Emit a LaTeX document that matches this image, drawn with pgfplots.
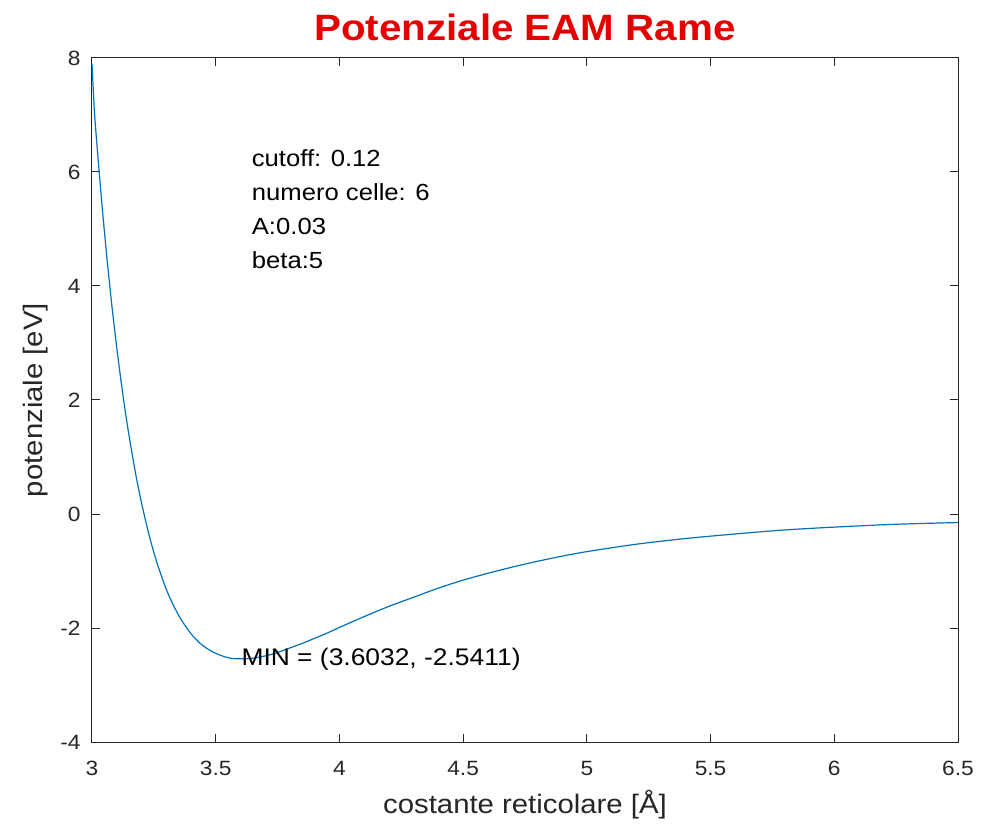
\documentclass[border=0pt]{standalone}
\usepackage{pgfplots}
\pgfplotsset{compat=1.18}
\usepackage{fontspec}
\setmainfont[FakeStretch=1.1]{Liberation Sans}
\definecolor{matblue}{rgb}{0,0.447,0.741}
\definecolor{axgray}{rgb}{0.15,0.15,0.15}
\definecolor{titlered}{rgb}{0.9,0,0}
\begin{document}
\begin{tikzpicture}
\begin{axis}[
  name=ax,
  width=649.5pt, height=513pt,
  scale only axis,
  xmin=3, xmax=6.5, ymin=-4, ymax=8,
  xtick={3,3.5,...,6.5},
  ytick={-4,-2,0,2,4,6,8},
  xticklabels={3,3.5,4,4.5,5,5.5,6,6.5},
  yticklabels={-4,-2,0,2,4,6,8},
  tick align=inside,
  major tick length=6pt,
  axis line style={draw=axgray, line width=0.75pt},
  tick style={draw=axgray, line width=0.75pt},
  /pgf/number format/assume math mode=true,
  tick label style={font=\fontsize{15.5}{18}\selectfont, text=axgray},
  xticklabel style={yshift=-11pt},
  yticklabel style={xshift=-5pt},
  xlabel={costante reticolare [Å]},
  ylabel={potenziale [eV]},
  label style={font=\fontsize{20}{24}\selectfont, text=axgray},
  xlabel style={at={(axis description cs:0.5,0)}, anchor=center, yshift=-47pt},
  ylabel style={at={(axis description cs:0,0.5)}, anchor=center, yshift=42pt},
  title={Potenziale EAM Rame},
  title style={font=\fontsize{27.5}{32}\selectfont\bfseries, text=titlered, at={(axis description cs:0.5,1)}, anchor=center, yshift=17pt},
  clip=true,
]
\addplot[color=matblue, line width=0.9pt, smooth, tension=0.5] coordinates {
(3.00,7.90) (3.01,7.05) (3.02,6.48) (3.04,5.44) (3.06,4.51) (3.08,3.67)
(3.10,2.92) (3.12,2.25) (3.14,1.64) (3.16,1.11) (3.18,0.62)
(3.20,0.20) (3.22,-0.18) (3.24,-0.52) (3.26,-0.82) (3.28,-1.08)
(3.30,-1.32) (3.33,-1.61) (3.36,-1.85) (3.40,-2.10) (3.44,-2.28)
(3.48,-2.40) (3.52,-2.48) (3.56,-2.53) (3.6032,-2.5411) (3.65,-2.53)
(3.70,-2.49) (3.75,-2.43) (3.80,-2.35) (3.85,-2.27) (3.90,-2.18)
(3.95,-2.09) (4.00,-1.99) (4.10,-1.80) (4.20,-1.62) (4.30,-1.46)
(4.40,-1.30) (4.50,-1.16) (4.60,-1.04) (4.70,-0.93) (4.80,-0.83)
(4.90,-0.74) (5.00,-0.66) (5.20,-0.53) (5.40,-0.43) (5.60,-0.35)
(5.80,-0.28) (6.00,-0.23) (6.25,-0.18) (6.50,-0.15)
};
\node[anchor=west, inner sep=0pt, align=left, text=black,
  font=\fontsize{17.5}{25.5}\selectfont] at (axis cs:3.645,5.35)
  {cutoff: 0.12\\numero celle: 6\\A:0.03\\beta:5};
\node[anchor=west, inner sep=0pt, text=black,
  font=\fontsize{18}{21}\selectfont] at (axis cs:3.6032,-2.5411)
  {MIN = (3.6032, -2.5411)};
\end{axis}
\pgfresetboundingbox
\path[use as bounding box] ([shift={(-69pt,-66pt)}]ax.south west) rectangle ([shift={(18pt,43.5pt)}]ax.north east);
\end{tikzpicture}
\end{document}
